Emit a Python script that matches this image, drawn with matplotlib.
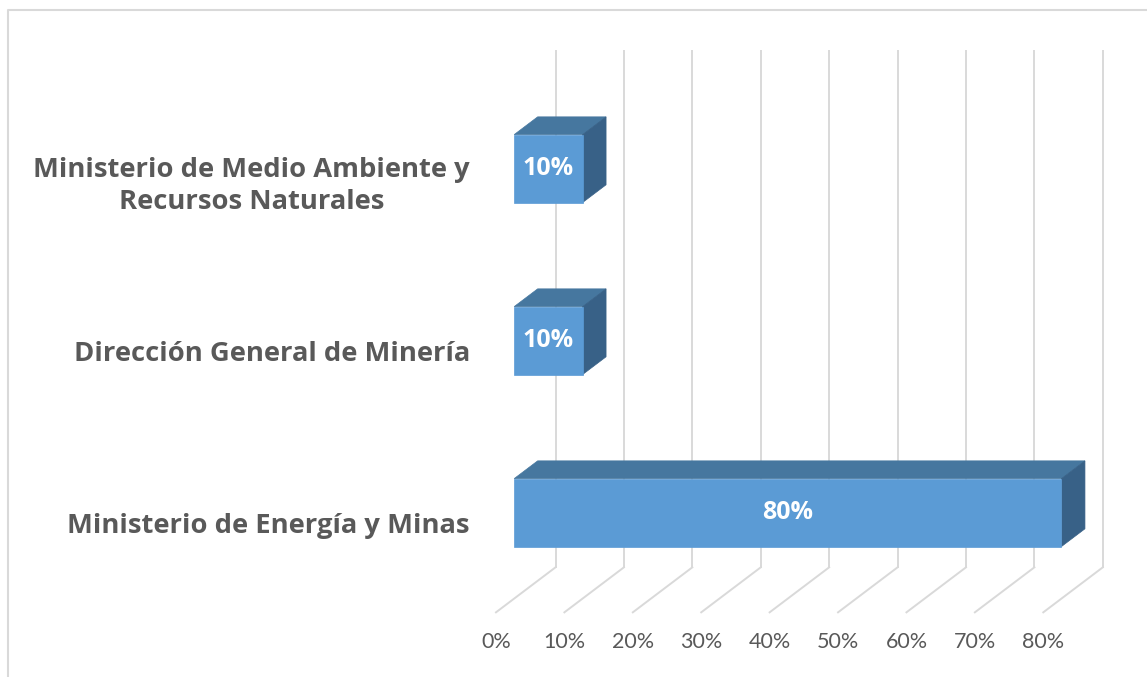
import matplotlib
matplotlib.use("Agg")
import matplotlib.pyplot as plt
from matplotlib.patches import Polygon
from matplotlib.lines import Line2D

# ---- data ----
categories = ["Ministerio de Energía y Minas",
              "Dirección General de Minería",
              "Ministerio de Medio Ambiente y\nRecursos Naturales"]
values = [80, 10, 10]
value_labels = ["80%", "10%", "10%"]
tick_values = [0, 10, 20, 30, 40, 50, 60, 70, 80]
tick_labels = ["0%", "10%", "20%", "30%", "40%", "50%", "60%", "70%", "80%"]

# ---- style ----
W, H, DPI = 1147, 677, 100
FRONT = "#5B9BD5"
TOP = "#46779F"
SIDE = "#386187"
GRID = "#D9D9D9"
TEXT = "#595959"

# oblique depth (data units)
DX, DY = 8.70, 0.2616
F0, F1 = 0.306, 0.70      # bar front / back depth fractions
BH = 0.395                # bar height in category units

fig = plt.figure(figsize=(W / DPI, H / DPI), dpi=DPI)
ax = fig.add_axes([0, 0, 1, 1])
ax.set_xlim(-72.50, 95.16)
ax.set_ylim(-0.876, 3.060)
ax.axis("off")

n = len(categories)
y0, y1 = -0.5, n - 0.5

# back-wall gridlines and floor diagonals
for v in tick_values:
    ax.add_line(Line2D([v + DX, v + DX], [y0 + DY, y1 + DY], color=GRID, lw=1.4, zorder=1))
    ax.add_line(Line2D([v, v + DX], [y0, y0 + DY], color=GRID, lw=1.4, zorder=1))

# tick labels
for v, t in zip(tick_values, tick_labels):
    ax.text(v, y0 - 0.17, t, ha="center", va="center", fontsize=15.5,
            color=TEXT, family="Lato")

# 3D bars
for i, (v, lab) in enumerate(zip(values, value_labels)):
    fx, fy = F0 * DX, F0 * DY
    bx, by = F1 * DX, F1 * DY
    lo, hi = i - BH / 2, i + BH / 2
    front = [(fx, lo + fy), (v + fx, lo + fy), (v + fx, hi + fy), (fx, hi + fy)]
    top = [(fx, hi + fy), (v + fx, hi + fy), (v + bx, hi + by), (bx, hi + by)]
    side = [(v + fx, lo + fy), (v + bx, lo + by), (v + bx, hi + by), (v + fx, hi + fy)]
    ax.add_patch(Polygon(top, closed=True, facecolor=TOP, edgecolor=TOP, lw=0.5, zorder=3))
    ax.add_patch(Polygon(side, closed=True, facecolor=SIDE, edgecolor=SIDE, lw=0.5, zorder=3))
    ax.add_patch(Polygon(front, closed=True, facecolor=FRONT, edgecolor=FRONT, lw=0.5, zorder=4))
    ax.text(v / 2 + fx, i + fy, lab, ha="center", va="center", fontsize=18,
            fontweight="bold", color="white", family="Open Sans", zorder=5)

# category labels
for i, c in enumerate(categories):
    ax.text(-3.8, i + (-0.02 if "\n" in c else 0), c, ha="right", va="center",
            multialignment="center", fontsize=19.7, fontweight="bold",
            color=TEXT, family="Open Sans", linespacing=1.3)

# chart border
fig.add_artist(Line2D([8 / W, 8 / W, 1.0], [0.0, 1 - 10 / H, 1 - 10 / H],
                      transform=fig.transFigure, color=GRID, lw=1.5))

fig.savefig("out.png", dpi=DPI)
